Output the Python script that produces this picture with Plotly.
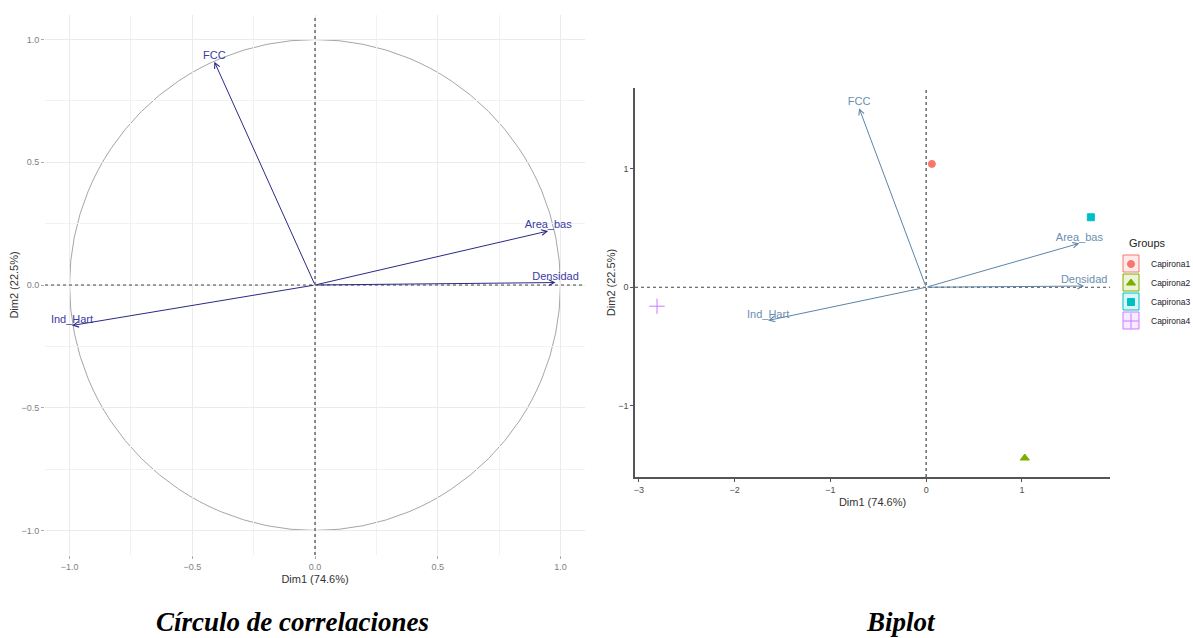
import plotly.graph_objects as go

# ---- data ----
var_names = ["FCC", "Area_bas", "Densidad", "Ind_Hart"]
corr_dim1 = [-0.41, 0.95, 0.98, -0.99]
corr_dim2 = [0.91, 0.22, 0.01, -0.165]

bi_dim1 = [-0.70, 1.60, 1.65, -1.65]
bi_dim2 = [1.51, 0.37, 0.01, -0.28]

groups = ["Capirona1", "Capirona2", "Capirona3", "Capirona4"]
ind_dim1 = [0.06, 1.03, 1.72, -2.81]
ind_dim2 = [1.04, -1.44, 0.59, -0.16]
group_colors = ["#F8766D", "#7CAE00", "#00BFC4", "#C77CFF"]
group_fills = ["rgba(248,118,109,0.15)", "rgba(124,174,0,0.15)", "rgba(0,191,196,0.15)", "rgba(199,124,255,0.15)"]
group_symbols = ["circle", "triangle-up", "square", "cross-thin"]
group_sizes = [7, 8, 7, 11]

left_ticks = [-1.0, -0.5, 0.0, 0.5, 1.0]
right_xticks = [-3, -2, -1, 0, 1]
right_yticks = [-1, 0, 1]

W, H = 1193, 638
fig = go.Figure()

L = dict(x0=45, x1=585, y0=15, y1=555)
R = dict(x0=635, x1=1110, y0=88, y1=477)

def dom(p):
    return [p["x0"] / W, p["x1"] / W], [1 - p["y1"] / H, 1 - p["y0"] / H]

lx, ly = dom(L)
rx, ry = dom(R)

tickfont_left = dict(family="Liberation Sans", size=9, color="#7F7F7F")
tickfont_right = dict(family="Liberation Sans", size=9, color="#4D4D4D")
titlefont = dict(family="Liberation Sans", size=11, color="#333333")

fig.update_layout(
    width=W, height=H, margin=dict(l=0, r=0, t=0, b=0, autoexpand=False),
    paper_bgcolor="white", plot_bgcolor="white",
    xaxis=dict(domain=lx, range=[-1.1, 1.1], tickvals=left_ticks, tickformat=".1f",
               showgrid=True, gridcolor="#EBEBEB", gridwidth=1,
               minor=dict(dtick=0.25, tick0=0, showgrid=True, gridcolor="#F2F2F2"),
               zeroline=False, showline=False, ticks="outside", ticklen=3, tickcolor="#AAAAAA",
               tickfont=tickfont_left, title=dict(text="Dim1 (74.6%)", font=titlefont, standoff=4),
               anchor="y", automargin=False),
    yaxis=dict(domain=ly, range=[-1.1, 1.1], tickvals=left_ticks, tickformat=".1f",
               showgrid=True, gridcolor="#EBEBEB", gridwidth=1,
               minor=dict(dtick=0.25, tick0=0, showgrid=True, gridcolor="#F2F2F2"),
               zeroline=False, showline=False, ticks="outside", ticklen=3, tickcolor="#AAAAAA",
               tickfont=tickfont_left, title=dict(text="Dim2 (22.5%)", font=titlefont, standoff=0),
               anchor="x", automargin=False),
    xaxis2=dict(domain=rx, range=[-3.04, 1.92], tickvals=right_xticks,
                showgrid=False, zeroline=False, showline=True, linecolor="#555555", linewidth=1.5,
                ticks="outside", ticklen=3, tickcolor="#555555",
                tickfont=tickfont_right, title=dict(text="Dim1 (74.6%)", font=titlefont, standoff=5),
                anchor="y2", automargin=False),
    yaxis2=dict(domain=ry, range=[-1.6, 1.68], tickvals=right_yticks,
                showgrid=False, zeroline=False, showline=True, linecolor="#555555", linewidth=1.5,
                ticks="outside", ticklen=3, tickcolor="#555555",
                tickfont=tickfont_right, title=dict(text="Dim2 (22.5%)", font=titlefont, standoff=0),
                anchor="x2", automargin=False),
    legend=dict(x=1111 / W, y=1 - 249.5 / H, xanchor="left", yanchor="top",
                font=dict(family="Liberation Sans", size=8.5, color="#222"),
                bgcolor="rgba(0,0,0,0)", tracegroupgap=0, itemwidth=30),
    showlegend=True,
)

fig.add_shape(type="circle", xref="x", yref="y", x0=-1, y0=-1, x1=1, y1=1,
              line=dict(color="#A6A6A6", width=1), layer="below")

for xr, yr in [("x", "y"), ("x2", "y2")]:
    fig.add_shape(type="line", xref=xr + " domain", yref=yr, x0=0, x1=1, y0=0, y1=0,
                  line=dict(color="#444444", width=1.2, dash="3px,3px"))
    fig.add_shape(type="line", xref=xr, yref=yr + " domain", x0=0, x1=0, y0=0, y1=1,
                  line=dict(color="#444444", width=1.2, dash="3px,3px"))

left_line = "#2A2A86"
left_text = "#3B3BA6"
for n, x, y in zip(var_names, corr_dim1, corr_dim2):
    fig.add_annotation(x=x, y=y, ax=0, ay=0, xref="x", yref="y", axref="x", ayref="y",
                       text="", showarrow=True, arrowhead=5, arrowsize=1.1, arrowwidth=1,
                       arrowcolor=left_line, standoff=0)
fig.add_trace(go.Scatter(x=corr_dim1, y=corr_dim2, mode="text", text=var_names,
                         textposition="top center", xaxis="x", yaxis="y",
                         textfont=dict(family="Liberation Sans", size=11, color=left_text),
                         showlegend=False, hoverinfo="skip"))

right_line = "#5E84A6"
right_text = "#6A8EB2"
for n, x, y in zip(var_names, bi_dim1, bi_dim2):
    fig.add_annotation(x=x, y=y, ax=0, ay=0, xref="x2", yref="y2", axref="x2", ayref="y2",
                       text="", showarrow=True, arrowhead=5, arrowsize=1.1, arrowwidth=1,
                       arrowcolor=right_line, standoff=0)
fig.add_trace(go.Scatter(x=bi_dim1, y=bi_dim2, mode="text", text=var_names,
                         textposition="top center", xaxis="x2", yaxis="y2",
                         textfont=dict(family="Liberation Sans", size=11, color=right_text),
                         showlegend=False, hoverinfo="skip"))

for g, x, y, c, s, sz in zip(groups, ind_dim1, ind_dim2, group_colors, group_symbols, group_sizes):
    fig.add_trace(go.Scatter(x=[x], y=[y], mode="markers", name=g, xaxis="x2", yaxis="y2",
                             marker=dict(color=c, symbol=s, size=sz,
                                         line=dict(color=c, width=1))))

# legend title
fig.add_annotation(x=1127 / W, y=1 - 243 / H, xref="paper", yref="paper", xanchor="left",
                   text="Groups", showarrow=False,
                   font=dict(family="Liberation Sans", size=11, color="#222"))
# legend key boxes
for i, (c, f) in enumerate(zip(group_colors, group_fills)):
    top = 255 + 19 * i
    fig.add_shape(type="rect", xref="paper", yref="paper",
                  x0=1123 / W, x1=1139 / W, y0=1 - (top + 17) / H, y1=1 - top / H,
                  line=dict(color=c, width=1), fillcolor=f, layer="below")

cap_font = dict(family="Liberation Serif", size=27, color="black")
fig.add_annotation(x=292 / W, y=1 - 622 / H, xref="paper", yref="paper", xanchor="center",
                   yanchor="middle", text="<b><i>Círculo de correlaciones</i></b>",
                   showarrow=False, font=cap_font)
fig.add_annotation(x=901 / W, y=1 - 622 / H, xref="paper", yref="paper", xanchor="center",
                   yanchor="middle", text="<b><i>Biplot</i></b>", showarrow=False, font=cap_font)

fig.write_html("out.html")
